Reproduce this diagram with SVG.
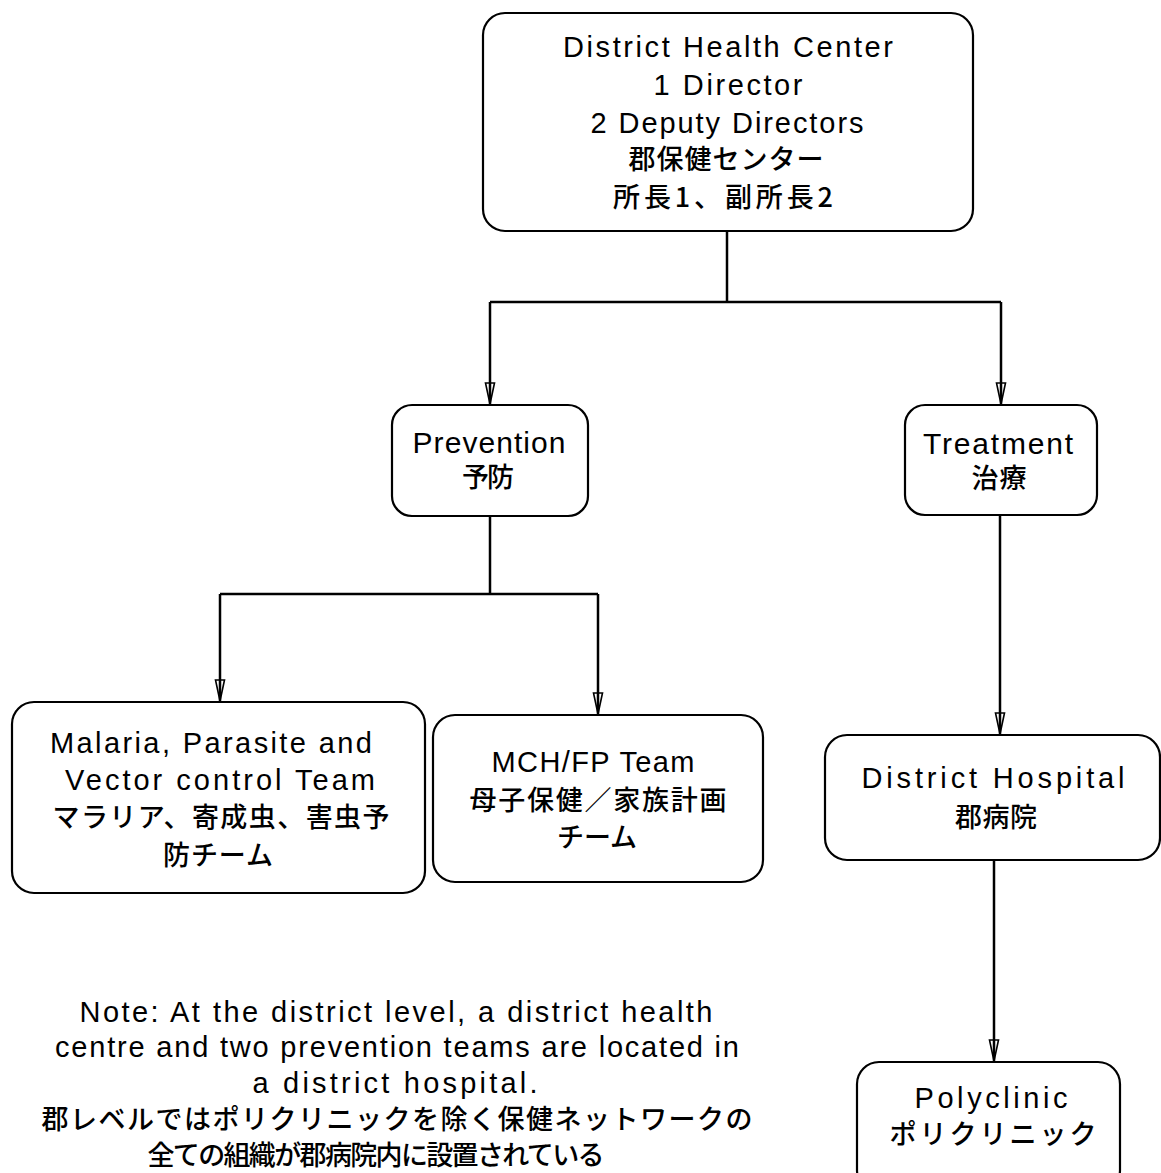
<svg xmlns="http://www.w3.org/2000/svg" width="1161" height="1173" viewBox="0 0 1161 1173">
  <style>
    .box { fill: #fff; stroke: #000; stroke-width: 2.2; }
    .conn { fill: none; stroke: #000; stroke-width: 2.5; }
    .en { font-family: "Liberation Sans", "Noto Sans CJK JP", sans-serif; font-size: 29px; text-anchor: middle; fill: #000; }
    .ja { font-family: "Noto Sans CJK JP", sans-serif; font-size: 27px; font-weight: 500; text-anchor: middle; fill: #000; }
  </style>
  <defs>
    <marker id="arr" viewBox="-23 -7 25 14" refX="0" refY="0" markerWidth="25" markerHeight="14" markerUnits="userSpaceOnUse" orient="auto">
      <path d="M-21,-4.5 L0,0 L-21,4.5 Z" fill="none" stroke="#000" stroke-width="1.6"/>
    </marker>
  </defs>
  <rect width="1161" height="1173" fill="#fff"/>

  <g id="connectors">
    <path class="conn" d="M727,231 V302"/>
    <path class="conn" d="M490,302 H1001"/>
    <path class="conn" d="M490,302 V404" marker-end="url(#arr)"/>
    <path class="conn" d="M1001,302 V404" marker-end="url(#arr)"/>
    <path class="conn" d="M490,516 V594"/>
    <path class="conn" d="M220,594 H598"/>
    <path class="conn" d="M220,594 V701" marker-end="url(#arr)"/>
    <path class="conn" d="M598,594 V714" marker-end="url(#arr)"/>
    <path class="conn" d="M1000,515 V734" marker-end="url(#arr)"/>
    <path class="conn" d="M994,860 V1061" marker-end="url(#arr)"/>
  </g>

  <g id="district-health-center">
    <rect class="box" x="483" y="13" width="490" height="218" rx="22"/>
    <text class="en" x="728" y="57" textLength="330">District Health Center</text>
    <text class="en" x="728" y="95" textLength="149">1 Director</text>
    <text class="en" x="727" y="133" textLength="273">2 Deputy Directors</text>
    <text class="ja" x="726" y="169" textLength="195">郡保健センター</text>
    <text class="ja" x="723" y="207" textLength="220">所長1、副所長2</text>
  </g>

  <g id="prevention">
    <rect class="box" x="392" y="405" width="196" height="111" rx="20"/>
    <text class="en" x="489" y="453" textLength="153" style="font-size:30px">Prevention</text>
    <text class="ja" x="488" y="487" textLength="52">予防</text>
  </g>

  <g id="treatment">
    <rect class="box" x="905" y="405" width="192" height="110" rx="20"/>
    <text class="en" x="998" y="454" textLength="150" style="font-size:30px">Treatment</text>
    <text class="ja" x="999" y="488" textLength="55">治療</text>
  </g>

  <g id="malaria-team">
    <rect class="box" x="12" y="702" width="413" height="191" rx="22"/>
    <text class="en" x="211" y="753" textLength="322">Malaria, Parasite and</text>
    <text class="en" x="220" y="790" textLength="310">Vector control Team</text>
    <text class="ja" x="221" y="827" textLength="337">マラリア、寄成虫、害虫予</text>
    <text class="ja" x="218" y="865" textLength="110">防チーム</text>
  </g>

  <g id="mch-fp-team">
    <rect class="box" x="433" y="715" width="330" height="167" rx="22"/>
    <text class="en" x="593" y="772" textLength="203">MCH/FP Team</text>
    <text class="ja" x="598" y="810" textLength="257">母子保健／家族計画</text>
    <text class="ja" x="597" y="847" textLength="80">チーム</text>
  </g>

  <g id="district-hospital">
    <rect class="box" x="825" y="735" width="335" height="125" rx="22"/>
    <text class="en" x="993" y="788" textLength="263">District Hospital</text>
    <text class="ja" x="996" y="827" textLength="82">郡病院</text>
  </g>

  <g id="polyclinic">
    <rect class="box" x="857" y="1062" width="263" height="130" rx="22"/>
    <text class="en" x="991" y="1108" textLength="153">Polyclinic</text>
    <text class="ja" x="993" y="1144" textLength="207">ポリクリニック</text>
  </g>

  <g id="note">
    <text class="en" x="396" y="1022" textLength="633">Note: At the district level, a district health</text>
    <text class="en" x="397" y="1057" textLength="684">centre and two prevention teams are located in</text>
    <text class="en" x="395" y="1093" textLength="285">a district hospital.</text>
    <text class="ja" x="397" y="1129" textLength="711">郡レベルではポリクリニックを除く保健ネットワークの</text>
    <text class="ja" x="376" y="1165" textLength="457">全ての組織が郡病院内に設置されている</text>
  </g>
</svg>
